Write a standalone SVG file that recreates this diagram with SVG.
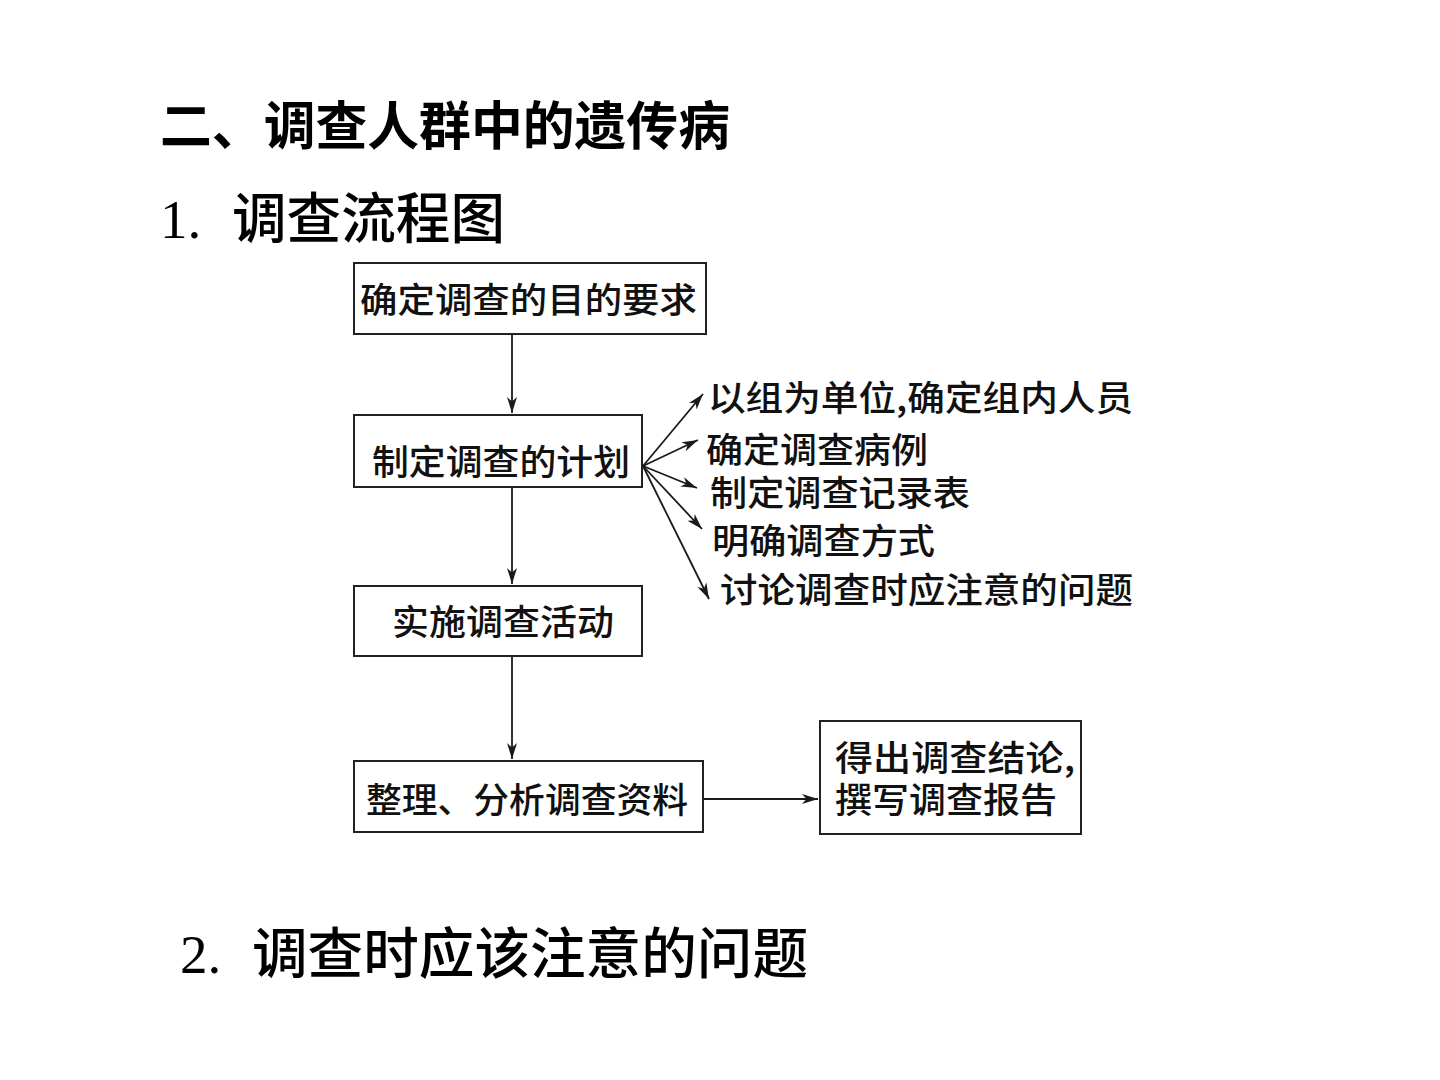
<svg xmlns="http://www.w3.org/2000/svg" width="1440" height="1080" viewBox="0 0 1440 1080">
<defs>
<style>
.box{fill:#fff;stroke:#222;stroke-width:2}
.t{font-family:"Noto Sans CJK SC","Noto Sans",sans-serif;font-size:35px;font-weight:500;fill:#111}
.h1{font-family:"Noto Sans CJK SC","Noto Sans",sans-serif;font-size:52px;font-weight:bold;fill:#000}
.n{font-family:"Liberation Serif",serif;font-size:55px;fill:#000}
.h2{font-family:"Noto Sans CJK SC","Noto Sans",sans-serif;font-size:55px;font-weight:500;fill:#000}
.c{stroke:#1a1a1a;stroke-width:1.8;fill:none;marker-end:url(#ah)}
</style>
<marker id="ah" markerWidth="18" markerHeight="12" refX="16" refY="6" orient="auto" markerUnits="userSpaceOnUse">
<path d="M0,1 L16,6 L0,11 L4.5,6 Z" fill="#1a1a1a"/>
</marker>
</defs>
<rect width="1440" height="1080" fill="#fff"/>
<text class="h1" x="160" y="145" textLength="570" lengthAdjust="spacingAndGlyphs">二、调查人群中的遗传病</text>
<text class="n" x="160" y="238">1.</text>
<text class="h2" x="232" y="238" textLength="273" lengthAdjust="spacingAndGlyphs">调查流程图</text>
<text class="n" x="180" y="973">2.</text>
<text class="h2" x="252" y="973" textLength="556" lengthAdjust="spacingAndGlyphs">调查时应该注意的问题</text>

<g id="connectors">
<line class="c" x1="512" y1="335" x2="512" y2="413"/>
<line class="c" x1="512" y1="488" x2="512" y2="584"/>
<line class="c" x1="512" y1="657" x2="512" y2="759"/>
<line class="c" x1="704" y1="799" x2="818" y2="799"/>
<line class="c" x1="643" y1="466" x2="703" y2="394"/>
<line class="c" x1="643" y1="466" x2="698" y2="440"/>
<line class="c" x1="643" y1="466" x2="697" y2="488"/>
<line class="c" x1="643" y1="466" x2="702" y2="529"/>
<line class="c" x1="643" y1="466" x2="709" y2="599"/>
</g>

<g id="n1"><rect class="box" x="354" y="263" width="352" height="71"/>
<text class="t" x="360" y="313" textLength="337" lengthAdjust="spacingAndGlyphs">确定调查的目的要求</text></g>
<g id="n2"><rect class="box" x="354" y="415" width="288" height="72"/>
<text class="t" x="372" y="475" textLength="258" lengthAdjust="spacingAndGlyphs">制定调查的计划</text></g>
<g id="n3"><rect class="box" x="354" y="586" width="288" height="70"/>
<text class="t" x="392" y="635" textLength="222" lengthAdjust="spacingAndGlyphs">实施调查活动</text></g>
<g id="n4"><rect class="box" x="354" y="761" width="349" height="71"/>
<text class="t" x="366" y="813" textLength="322" lengthAdjust="spacingAndGlyphs">整理、分析调查资料</text></g>
<g id="n5"><rect class="box" x="820" y="721" width="261" height="113"/>
<text class="t" x="835" y="771" font-size="33" textLength="240" lengthAdjust="spacingAndGlyphs">得出调查结论,</text>
<text class="t" x="835" y="813" font-size="33" textLength="222" lengthAdjust="spacingAndGlyphs">撰写调查报告</text></g>

<g id="s1"><text class="t" x="708" y="411" textLength="425" lengthAdjust="spacingAndGlyphs">以组为单位,确定组内人员</text></g>
<g id="s2"><text class="t" x="706" y="463" font-size="33" textLength="222" lengthAdjust="spacingAndGlyphs">确定调查病例</text></g>
<g id="s3"><text class="t" x="710" y="506" font-size="33" textLength="260" lengthAdjust="spacingAndGlyphs">制定调查记录表</text></g>
<g id="s4"><text class="t" x="712" y="554" textLength="223" lengthAdjust="spacingAndGlyphs">明确调查方式</text></g>
<g id="s5"><text class="t" x="720" y="603" textLength="413" lengthAdjust="spacingAndGlyphs">讨论调查时应注意的问题</text></g>
</svg>
